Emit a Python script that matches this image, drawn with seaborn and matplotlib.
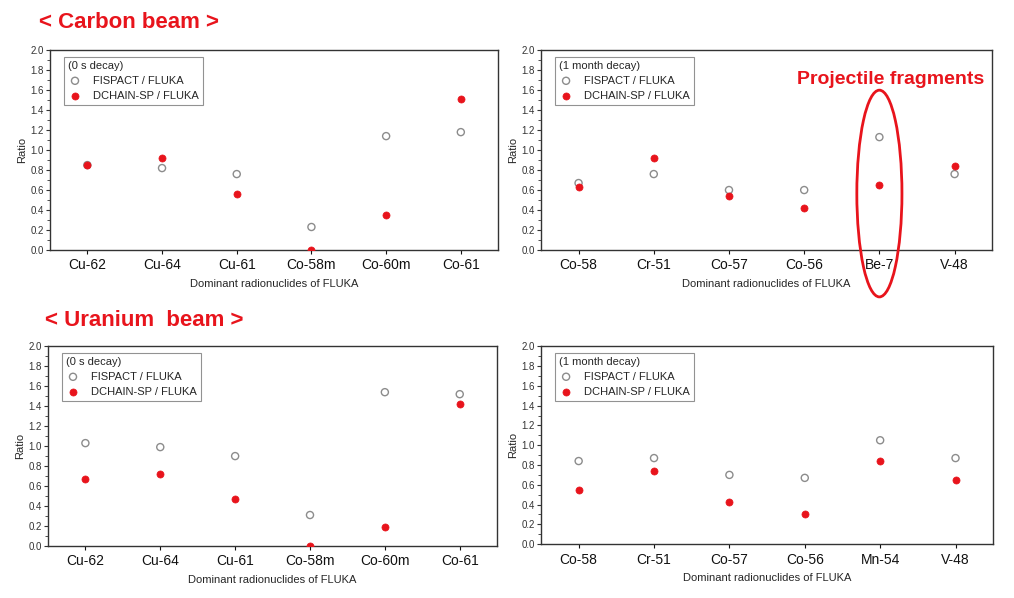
import matplotlib
matplotlib.use("Agg")
import matplotlib.pyplot as plt
from matplotlib.patches import Ellipse
from matplotlib.ticker import MultipleLocator
import pandas as pd
import seaborn as sns

sns.set_style("white")
plt.rcParams['font.family'] = ['Liberation Sans', 'DejaVu Sans']

# Data
nuclides_0s = ['Cu-62', 'Cu-64', 'Cu-61', 'Co-58m', 'Co-60m', 'Co-61']
carbon_0s_fispact = [0.85, 0.82, 0.76, 0.23, 1.14, 1.18]
carbon_0s_dchain = [0.85, 0.92, 0.56, 0.00, 0.35, 1.51]

nuclides_carbon_1m = ['Co-58', 'Cr-51', 'Co-57', 'Co-56', 'Be-7', 'V-48']
carbon_1m_fispact = [0.67, 0.76, 0.60, 0.60, 1.13, 0.76]
carbon_1m_dchain = [0.63, 0.92, 0.54, 0.42, 0.65, 0.84]

uranium_0s_fispact = [1.03, 0.99, 0.90, 0.31, 1.54, 1.52]
uranium_0s_dchain = [0.67, 0.72, 0.47, 0.00, 0.19, 1.42]

nuclides_uranium_1m = ['Co-58', 'Cr-51', 'Co-57', 'Co-56', 'Mn-54', 'V-48']
uranium_1m_fispact = [0.84, 0.87, 0.70, 0.67, 1.05, 0.87]
uranium_1m_dchain = [0.55, 0.74, 0.43, 0.30, 0.84, 0.65]

fig = plt.figure(figsize=(10.14, 5.98), dpi=100)

panels = [
    ([0.0493, 0.582, 0.442, 0.334], nuclides_0s, carbon_0s_fispact, carbon_0s_dchain, '(0 s decay)'),
    ([0.5335, 0.582, 0.445, 0.334], nuclides_carbon_1m, carbon_1m_fispact, carbon_1m_dchain, '(1 month decay)'),
    ([0.0473, 0.087, 0.443, 0.334], nuclides_0s, uranium_0s_fispact, uranium_0s_dchain, '(0 s decay)'),
    ([0.5335, 0.090, 0.446, 0.331], nuclides_uranium_1m, uranium_1m_fispact, uranium_1m_dchain, '(1 month decay)'),
]

axes = []
for rect, names, fis, dch, decay in panels:
    ax = fig.add_axes(rect)
    df = pd.DataFrame({'nuclide': names, 'fispact': fis, 'dchain': dch})
    sns.scatterplot(data=df, x='nuclide', y='fispact', ax=ax, marker='o', s=26,
                    facecolor='none', edgecolor='#8c8c8c', linewidth=1.0,
                    label='FISPACT / FLUKA', zorder=3)
    sns.scatterplot(data=df, x='nuclide', y='dchain', ax=ax, marker='o', s=26,
                    color='#e8141c', edgecolor='#e8141c', linewidth=0.5,
                    label='DCHAIN-SP / FLUKA', zorder=4)
    ax.set_xlim(-0.5, 5.5)
    ax.set_ylim(0, 2.0)
    ax.yaxis.set_major_locator(MultipleLocator(0.2))
    ax.yaxis.set_minor_locator(MultipleLocator(0.1))
    ax.yaxis.set_major_formatter(matplotlib.ticker.FormatStrFormatter('%.1f'))
    ax.tick_params(axis='y', which='major', direction='out', length=3, width=0.8,
                   labelsize=7, left=True, pad=1.5, colors='#333333')
    ax.tick_params(axis='y', which='minor', direction='out', length=2, width=0.6, left=True, colors='#333333')
    ax.tick_params(axis='x', direction='out', length=3, width=0.8, labelsize=10,
                   bottom=True, pad=3, colors='#111111')
    ax.set_xlabel('Dominant radionuclides of FLUKA', fontsize=8, labelpad=5)
    ax.set_ylabel('Ratio', fontsize=8, labelpad=2)
    for sp in ax.spines.values():
        sp.set_color('#333333')
        sp.set_linewidth(1.0)
    leg = ax.legend(title=decay, loc='upper left', bbox_to_anchor=(0.031, 0.967),
                    fontsize=8, title_fontsize=8, frameon=True, fancybox=False,
                    edgecolor='#777777', alignment='left', handletextpad=1.0,
                    borderpad=0.35, labelspacing=0.45, handlelength=1.3,
                    borderaxespad=0.0)
    leg.get_frame().set_linewidth(0.8)
    axes.append(ax)

# annotations
fig.text(0.038, 1 - 23 / 598, '< Carbon beam >', color='#e8141c', fontsize=16,
         fontweight='bold', va='center', ha='left')
fig.text(0.044, 1 - 321 / 598, '< Uranium  beam >', color='#e8141c', fontsize=16,
         fontweight='bold', va='center', ha='left')
fig.text(891 / 1014, 1 - 80 / 598, 'Projectile fragments', color='#e8141c',
         fontsize=14, fontweight='bold', va='center', ha='center')

ell = Ellipse((4, 0.565), width=0.6, height=2.07, fill=False, edgecolor='#e8141c',
              linewidth=2.0, clip_on=False, zorder=5)
axes[1].add_patch(ell)

fig.savefig('out.png', dpi=100)
